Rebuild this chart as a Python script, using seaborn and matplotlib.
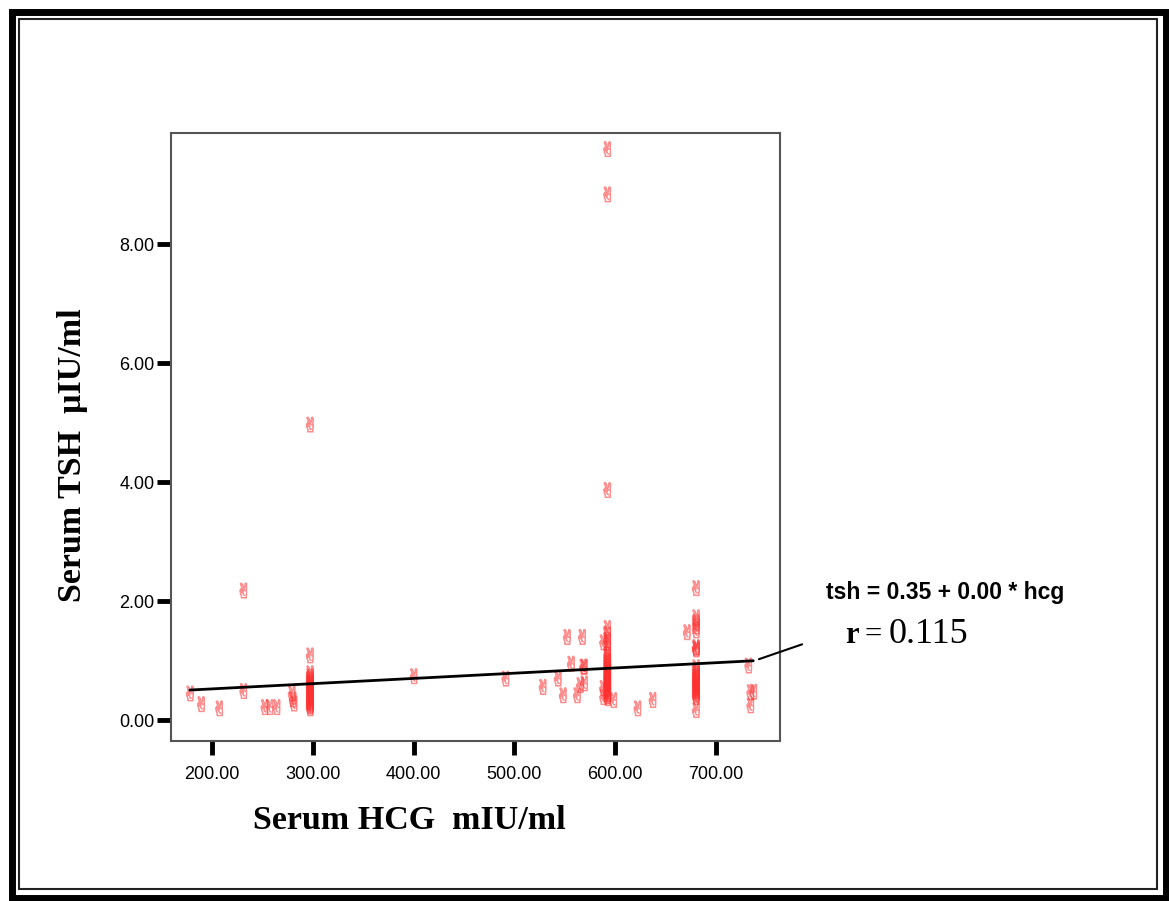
import numpy as np
import pandas as pd
import matplotlib
matplotlib.use("Agg")
import matplotlib.pyplot as plt
import seaborn as sns
from matplotlib.patches import Rectangle

# scattered single points (hcg, tsh)
hcg_single = [178, 189, 207, 231, 231, 252, 257, 264, 279, 280, 281, 297, 297,
              400, 491, 528, 543, 548, 552, 556, 562, 565, 567, 568, 569, 569,
              588, 588, 588, 598, 622, 637, 671, 680, 732, 734, 737, 734]
tsh_single = [0.45, 0.27, 0.20, 2.18, 0.49, 0.22, 0.22, 0.22, 0.45, 0.35, 0.28, 1.09, 4.97,
              0.74, 0.70, 0.56, 0.70, 0.42, 1.40, 0.95, 0.42, 0.59, 1.40, 0.90, 0.62, 0.90,
              1.31, 0.54, 0.39, 0.34, 0.20, 0.34, 1.48, 0.17, 0.92, 0.47, 0.48, 0.25]

# dense vertical clusters
hcg_c1 = 297
tsh_c1 = [0.20, 0.23, 0.26, 0.29, 0.31, 0.34, 0.37, 0.40, 0.43, 0.46, 0.49,
          0.52, 0.55, 0.58, 0.61, 0.64, 0.67, 0.70, 0.74, 0.79]
hcg_c2 = 592
tsh_c2 = [0.37, 0.40, 0.43, 0.46, 0.49, 0.52, 0.55, 0.58, 0.61, 0.64, 0.67,
          0.70, 0.73, 0.76, 0.80, 0.84, 0.88, 0.92, 0.96, 1.00, 1.05, 1.10,
          1.20, 1.30, 1.35, 1.45, 1.55, 3.87, 8.84, 9.60]
hcg_c3 = 680
tsh_c3 = [0.39, 0.42, 0.45, 0.48, 0.51, 0.54, 0.57, 0.60, 0.63, 0.66, 0.69,
          0.72, 0.75, 0.79, 0.83, 0.89, 1.19, 1.21, 1.23, 1.51, 1.58, 1.65,
          1.73, 2.22]

intercept = 0.35
slope = 0.00088
r_value = 0.115

hcg = hcg_single + [hcg_c1] * len(tsh_c1) + [hcg_c2] * len(tsh_c2) + [hcg_c3] * len(tsh_c3)
tsh = tsh_single + tsh_c1 + tsh_c2 + tsh_c3
df = pd.DataFrame({"hcg": hcg, "tsh": tsh})

sns.set_style("white")
plt.rcParams["text.color"] = "black"
plt.rcParams["axes.labelcolor"] = "black"
plt.rcParams["xtick.color"] = "black"
plt.rcParams["ytick.color"] = "black"

fig = plt.figure(figsize=(11.69, 9.01), dpi=100)
ax = fig.add_axes([171 / 1169, 1 - 741 / 901, 609 / 1169, 608 / 901])

sns.scatterplot(data=df, x="hcg", y="tsh", marker="$✌$", s=120,
                facecolors="none", edgecolor="#ff3030", linewidth=0.6,
                alpha=0.55, ax=ax)

xs = np.array([df.hcg.min(), df.hcg.max()])
ax.plot(xs, intercept + slope * xs, color="black", lw=2)
ax.annotate("", xy=(740, 1.01), xytext=(788, 1.29),
            arrowprops=dict(arrowstyle="-", lw=1.5, color="black"),
            annotation_clip=False)

ax.set_xlim(159.3, 763.5)
ax.set_ylim(-0.35, 9.87)
ax.set_xticks([200, 300, 400, 500, 600, 700])
ax.set_yticks([0, 2, 4, 6, 8])
ax.xaxis.set_major_formatter(matplotlib.ticker.FormatStrFormatter("%.2f"))
ax.yaxis.set_major_formatter(matplotlib.ticker.FormatStrFormatter("%.2f"))
ax.tick_params(axis="both", direction="out", length=10, width=3.5, color="black",
               labelsize=13, labelcolor="black", bottom=True, left=True)
ax.tick_params(axis="x", pad=8)
ax.tick_params(axis="y", pad=2)
for lab in ax.get_xticklabels() + ax.get_yticklabels():
    lab.set_fontfamily("Liberation Sans")
for sp in ax.spines.values():
    sp.set_color("#555555")
    sp.set_linewidth(1.5)

ax.set_xlabel("Serum HCG  mIU/ml", fontfamily="Liberation Serif", fontweight="bold",
              fontsize=24.5, color="black")
ax.set_ylabel("Serum TSH  μIU/ml", fontfamily="Liberation Serif", fontweight="bold",
              fontsize=24.5, color="black")
ax.xaxis.set_label_coords(0.391, -0.106)
ax.yaxis.set_label_coords(-0.137, 0.47)

W, H = 1169, 901
fig.text(826 / W, 1 - 593 / H, "tsh = 0.35 + 0.00 * hcg", fontfamily="Liberation Sans",
         fontweight="bold", fontsize=16.5, va="center", ha="left")
fig.text(845 / W, 1 - 643 / H, "r", fontfamily="Liberation Serif", fontweight="bold",
         fontsize=22, va="baseline", ha="left")
fig.text(865 / W, 1 - 643 / H, "=", fontfamily="Liberation Serif",
         fontsize=22, va="baseline", ha="left")
fig.text(889 / W, 1 - 643 / H, f"{r_value:.3f}", fontfamily="Liberation Serif",
         fontsize=26, va="baseline", ha="left")

# double frame around the figure
fig.add_artist(Rectangle((11.5 / W, 1 - 897.5 / H), 1154 / W, 886 / H,
                         transform=fig.transFigure, fill=False, ec="black", lw=5))
fig.add_artist(Rectangle((19 / W, 1 - 889 / H), 1138 / W, 870 / H,
                         transform=fig.transFigure, fill=False, ec="#222222", lw=1.5))

fig.savefig("out.png", dpi=100)
